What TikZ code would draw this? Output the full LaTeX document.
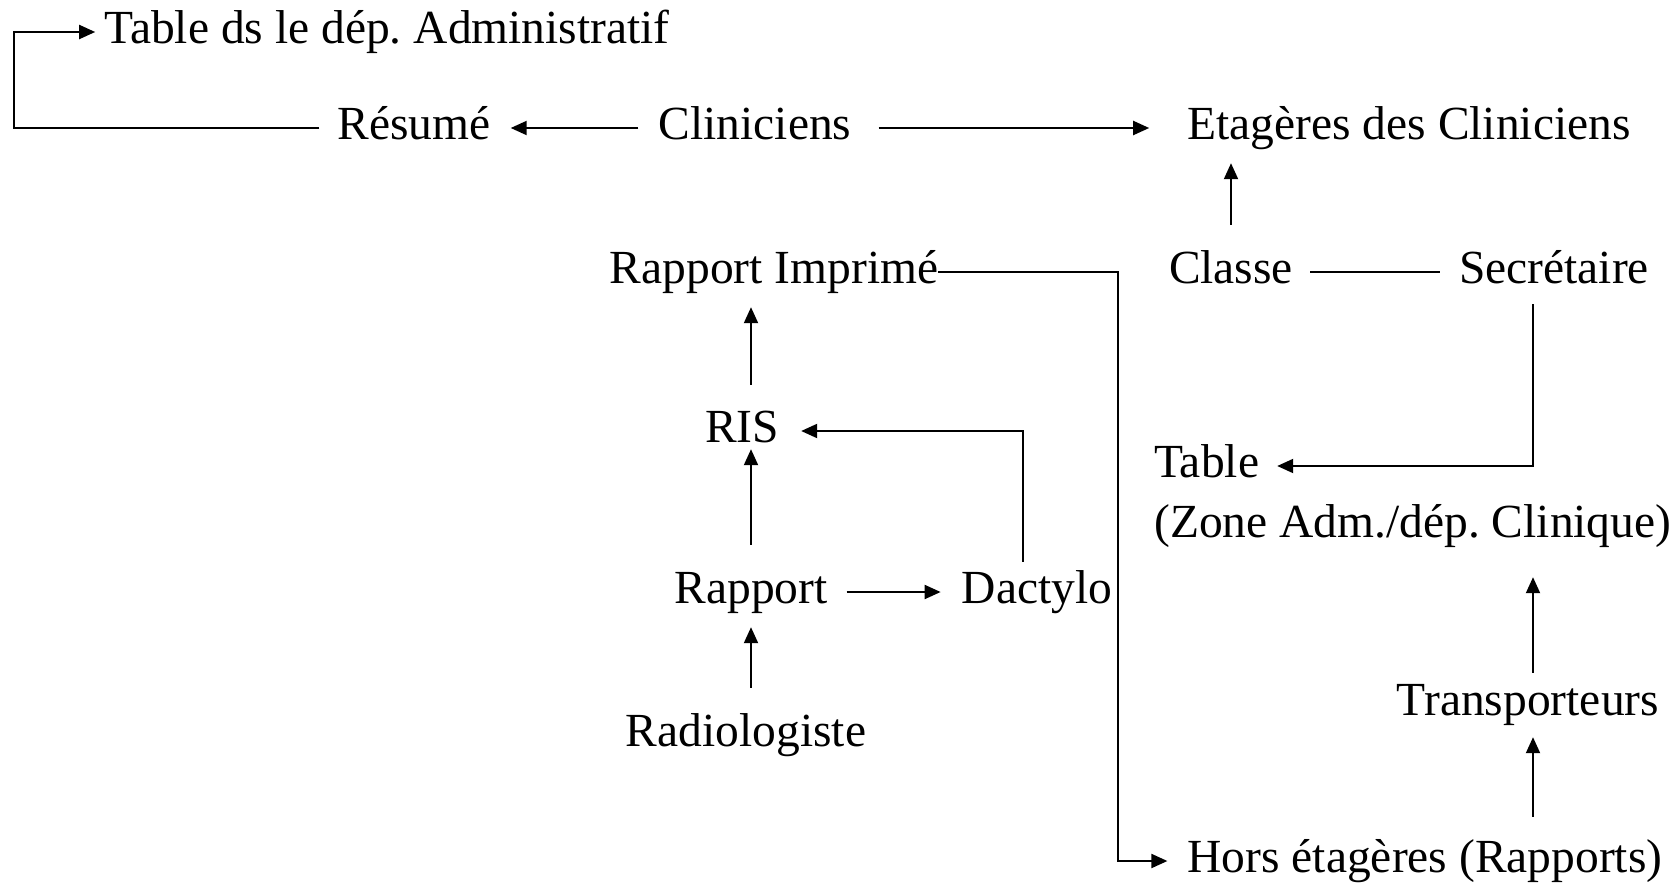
\documentclass[tikz,border=0pt]{standalone}
\usepackage{fontspec}
\setmainfont{Liberation Serif}
\usetikzlibrary{arrows.meta,calc}
\frenchspacing

\begin{document}
\begin{tikzpicture}[x=1pt,y=-1pt,
  lbl/.style={font=\fontsize{47.5}{57}\selectfont, inner sep=0pt,
              text height=34pt, text depth=12pt, anchor=base},
  link/.style={line width=2pt},
  arr/.style={link, -{Triangle[length=16pt,width=14pt]}}]

\useasboundingbox (0,0) rectangle (1676,886);

% labels
\node[lbl] (tds)  at (387,43)  {Table ds le dép. Administratif};
\node[lbl] (res)  at (414,139) {Résumé};
\node[lbl] (cli)  at (755,139) {Cliniciens};
\node[lbl] (eta)  at (1409,139) {Etagères des Cliniciens};
\node[lbl] (rimp) at (774,283) {Rapport Imprimé};
\node[lbl] (cla)  at (1231,283) {Classe};
\node[lbl] (sec)  at (1554,283) {Secrétaire};
\node[lbl] (ris)  at (742,442) {RIS};
\node[lbl, anchor=base west] (tab)  at (1154,477) {Table};
\node[lbl, anchor=base west] (zone) at (1154,537) {(Zone Adm./dép. Clinique)};
\node[lbl] (rap)  at (751,603) {Rapport};
\node[lbl] (dac)  at (1037,603) {Dactylo};
\node[lbl] (tra)  at (1528,715) {Transporteurs};
\node[lbl] (rad)  at (746,746) {Radiologiste};
\node[lbl] (hors) at (1425,872) {Hors étagères (Rapports)};

% bend points of the routed connectors
\coordinate (c1) at (14,128);
\coordinate (c2) at (1533,466);
\coordinate (c3) at (1118,272);
\coordinate (c4) at (1023,431);

% top row
\draw[arr] ([xshift=-18pt]res.west) -- (res.west -| c1) |- ([xshift=-9pt]tds.west);
\draw[arr, shorten <=20pt, shorten >=20pt] (cli.west) -- (res.east);
\draw[arr, shorten <=27pt, shorten >=38pt] (cli.east) -- (eta.west);

% right column
\draw[arr, shorten <=24pt, shorten >=12pt] (cla.north) -- (cla.north |- eta.south);
\draw[link, shorten <=17pt, shorten >=19pt] (cla.east) -- (sec.west);
\draw[arr] ($(sec.south -| c2)+(0,-9pt)$) -- (c2) -- ([xshift=18pt]tab.east);
\draw[arr, shorten <=8pt, shorten >=28pt] (tra.north -| c2) -- (zone.south -| c2);
\draw[arr, shorten <=21pt, shorten >=10pt] (hors.north -| c2) -- (tra.south -| c2);

% report route to the shelves
\draw[arr] (rimp.east) -- (c3) |- ([xshift=-20pt]hors.west);

% left column
\draw[arr, shorten <=23pt, shorten >=12pt] (ris.north -| rap.north) -- (rimp.south -| rap.north);
\draw[arr, shorten <=24pt, shorten >=-5pt] (rap.north) -- (ris.south -| rap.north);
\draw[arr, shorten <=24pt, shorten >=12pt] (rad.north -| rap.north) -- (rap.south);
\draw[arr, shorten <=19pt, shorten >=21pt] (rap.east) -- (dac.west);
\draw[arr] ($(dac.north -| c4)+(0,7pt)$) -- (c4) -- ([xshift=22pt]ris.east);

\end{tikzpicture}
\end{document}
